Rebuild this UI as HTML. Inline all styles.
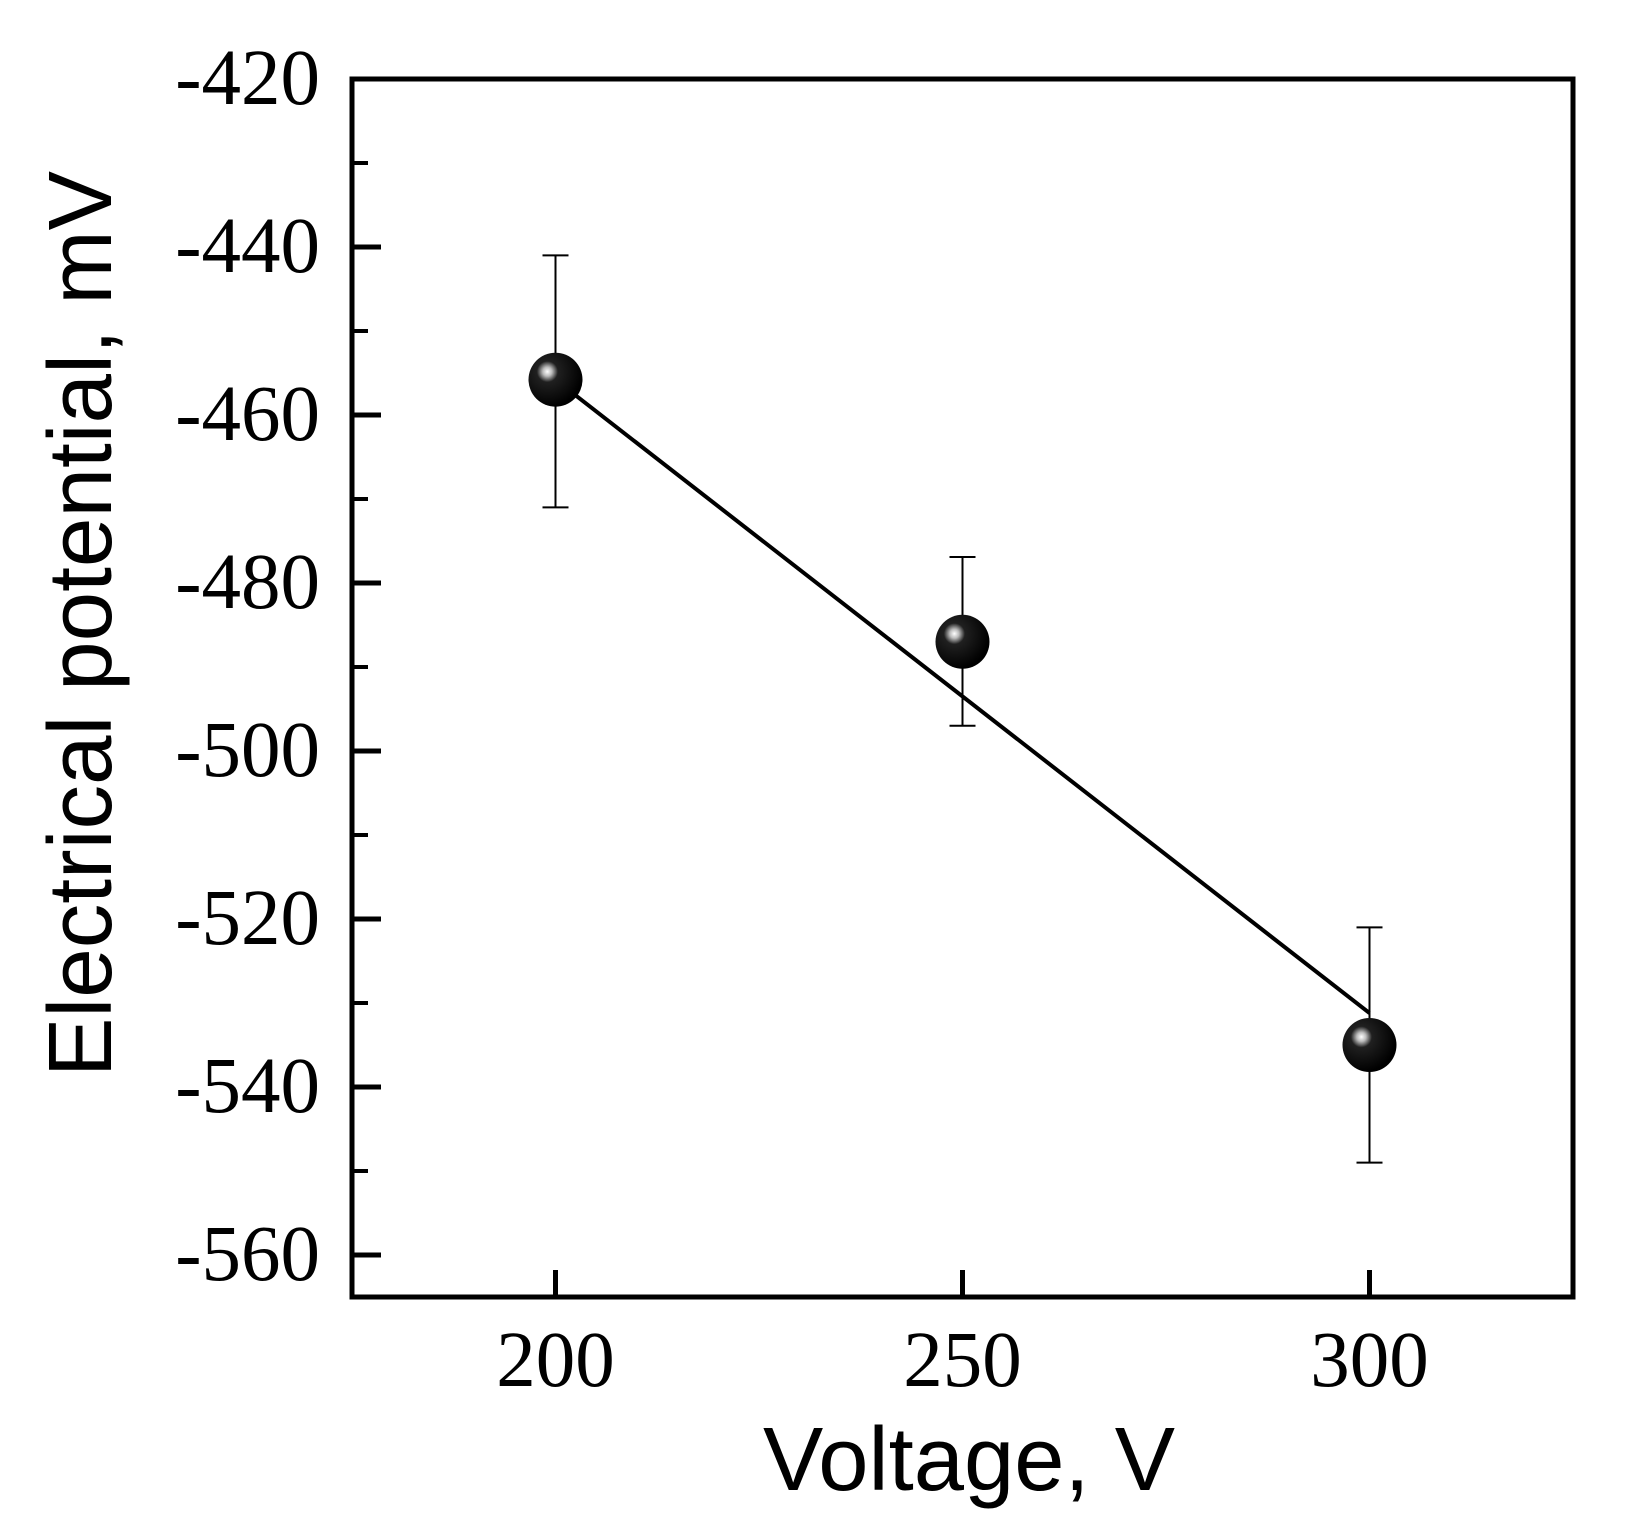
<!DOCTYPE html>
<html><head><meta charset="utf-8"><style>html,body{margin:0;padding:0;background:#fff;}svg{display:block}</style></head>
<body>
<svg id="chart" xmlns="http://www.w3.org/2000/svg" width="1626" height="1521" viewBox="0 0 1626 1521">
<defs>
<radialGradient id="ball" cx="0.35" cy="0.35" r="0.65">
<stop offset="0" stop-color="#ffffff"/>
<stop offset="0.13" stop-color="#bbbbbb"/>
<stop offset="0.3" stop-color="#202020"/>
<stop offset="1" stop-color="#000"/>
</radialGradient>
</defs>
<g id="plot"></g>
<text x="969" y="1490" text-anchor="middle" font-family="Liberation Sans, sans-serif" font-size="90" textLength="412" lengthAdjust="spacingAndGlyphs">Voltage, V</text>
<text transform="translate(111,624) rotate(-90)" text-anchor="middle" font-family="Liberation Sans, sans-serif" font-size="90" textLength="906" lengthAdjust="spacingAndGlyphs">Electrical potential, mV</text>
</svg>
<script>
const categories = [200, 250, 300];
const values = [-455.8, -487.0, -535.0];
const errUpper = [-441, -476.9, -521];
const errLower = [-471, -497, -549];
const fitStart = [200, -455.8];
const fitEnd = [300, -531.2];
const xTicks = [200, 250, 300];
const yTicks = [-420, -440, -460, -480, -500, -520, -540, -560];
const yMinorTicks = [-430, -450, -470, -490, -510, -530, -550];

const L = 352, R = 1573, T = 79, B = 1297;
const xMin = 175, xMax = 325, yMax = -420, yMin = -565;
function sx(v){ return L + (v - xMin) / (xMax - xMin) * (R - L); }
function sy(v){ return T + (yMax - v) / (yMax - yMin) * (B - T); }
const NS = 'http://www.w3.org/2000/svg';
const g = document.getElementById('plot');
function mk(tag, attrs, parent){ const e = document.createElementNS(NS, tag); for (const k in attrs) e.setAttribute(k, attrs[k]); (parent||g).appendChild(e); return e; }

const frame = mk('rect', {x:L, y:T, width:R-L, height:B-T, fill:'none', stroke:'#000', 'stroke-width':5});



yTicks.forEach(v => {
  const t = mk('line', {x1:L, x2:L+29, y1:sy(v), y2:sy(v), stroke:'#000', 'stroke-width':5});
  
  
  const lb = mk('text', {x:320, y:sy(v)+25, 'text-anchor':'end', 'font-family':'Liberation Serif, serif', 'font-size':79});
  lb.textContent = String(v);
  
  
});
yMinorTicks.forEach(v => {
  const t = mk('line', {x1:L, x2:L+16, y1:sy(v), y2:sy(v), stroke:'#000', 'stroke-width':4});
  
  
});
xTicks.forEach(v => {
  const t = mk('line', {x1:sx(v), x2:sx(v), y1:B, y2:B-27, stroke:'#000', 'stroke-width':5});
  
  
  const lb = mk('text', {x:sx(v), y:1386, 'text-anchor':'middle', 'font-family':'Liberation Serif, serif', 'font-size':79});
  lb.textContent = String(v);
  
  
});

categories.forEach((c, i) => {
  const x = sx(c);
  const e = mk('path', {d:`M${x},${sy(errUpper[i])}V${sy(errLower[i])}M${x-13},${sy(errUpper[i])}H${x+13}M${x-13},${sy(errLower[i])}H${x+13}`, stroke:'#000', 'stroke-width':2, fill:'none'});
  
  
});

const fit = mk('line', {x1:sx(fitStart[0]), y1:sy(fitStart[1]), x2:sx(fitEnd[0]), y2:sy(fitEnd[1]), stroke:'#000', 'stroke-width':4});



categories.forEach((c, i) => {
  const p = mk('circle', {cx:sx(c), cy:sy(values[i]), r:27, fill:'url(#ball)'});
  
  
});
</script>
</body></html>
